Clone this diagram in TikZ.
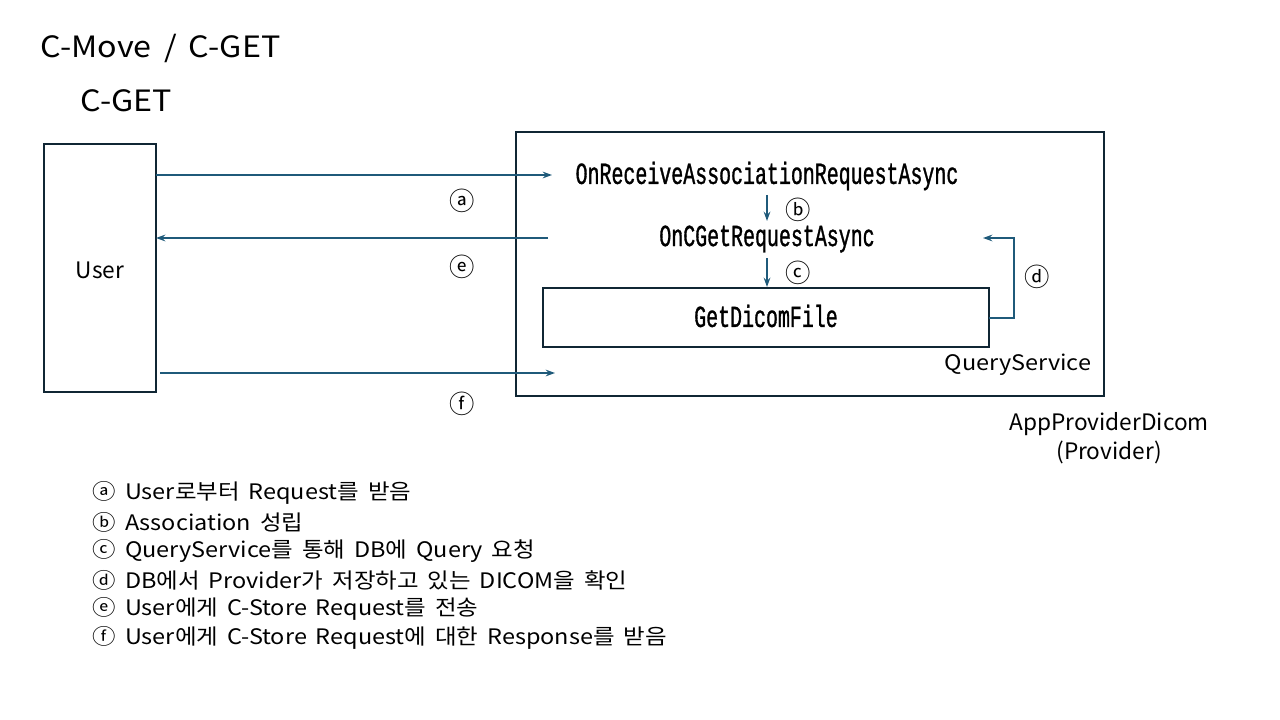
\documentclass[tikz,border=0pt]{standalone}
\usepackage{fontspec}
\usepackage{tikz}
\usetikzlibrary{arrows.meta}
\setmainfont{Noto Sans CJK KR}
\newfontfamily\widefont{Noto Sans CJK KR}[FakeStretch=1.1,WordSpace=1.7]
\newfontfamily\codefont{Liberation Mono}[FakeStretch=0.65,FakeBold=1]
\definecolor{arrowblue}{RGB}{31,90,122}
\definecolor{boxline}{RGB}{16,38,52}

\begin{document}
\begin{tikzpicture}[x=0.75pt,y=-0.75pt,
  box/.style={draw=boxline,line width=1.5pt},
  flow/.style={draw=arrowblue,line width=1.2pt,-{Stealth[length=7pt,width=5pt]}},
  func/.style={font=\codefont\fontsize{23}{23}\selectfont},
  stepmark/.style={font=\fontsize{19}{19}\selectfont},
  txt/.style={font=\fontsize{16}{18}\selectfont}]
\useasboundingbox (0,0) rectangle (1280,720);
\node[anchor=west,font=\widefont\fontsize{22}{22}\selectfont] (title) at (36,48) {C-Move / C-GET};
\node[anchor=west,font=\widefont\fontsize{22}{22}\selectfont] (sub) at (76,101) {C-GET};
% boxes
\draw[box] (44,144) rectangle (156,392);
\node[txt,font=\fontsize{17}{17}\selectfont] (user) at (100,270) {User};
\draw[box] (516,132) rectangle (1104,396);
\draw[box] (543,288) rectangle (989,347);
\coordinate (file) at (766,316);
\coordinate (fileE) at (989,318);
\node[func] (recv) at (767,176) {OnReceiveAssociationRequestAsync};
\node[func] (cget) at (767,239) {OnCGetRequestAsync};
\node[func] at (file) {GetDicomFile};
\node[txt,font=\widefont\fontsize{16}{16}\selectfont] (qs) at (1018,365) {QueryService};
\node[txt,align=center,font=\fontsize{17}{22}\selectfont] (app) at (1109,438) {AppProviderDicom\\(Provider)};
% arrows
\coordinate (ua) at (156,175); \coordinate (pa) at (552,175);
\coordinate (pe) at (548,238); \coordinate (ue) at (156,238);
\coordinate (uf) at (160,373); \coordinate (pf) at (555,373);
\coordinate (rb) at (767,195); \coordinate (cb) at (767,221);
\coordinate (rc) at (767,258); \coordinate (cc) at (767,287);
\coordinate (cd) at (983,238);
\draw[flow] (ua) -- (pa);
\draw[flow] (pe) -- (ue);
\draw[flow] (uf) -- (pf);
\draw[flow] (rb) -- (cb);
\draw[flow] (rc) -- (cc);
\draw[flow] (fileE) -- (1014,318) -- (1014,238) -- (cd);
\node[stepmark] (ma) at (462,201) {ⓐ};
\node[stepmark] (me) at (462,267) {ⓔ};
\node[stepmark] (mf) at (462,404) {ⓕ};
\node[stepmark] (mb) at (798,210) {ⓑ};
\node[stepmark] (mc) at (798,273) {ⓒ};
\node[stepmark] (md) at (1037,277) {ⓓ};
% legend
\foreach \t [count=\i] in {ⓐ User로부터 Request를 받음,ⓑ Association 성립,ⓒ QueryService를 통해 DB에 Query 요청,ⓓ DB에서 Provider가 저장하고 있는 DICOM을 확인,ⓔ User에게 C-Store Request를 전송,ⓕ User에게 C-Store Request에 대한 Response를 받음}
  \node[txt,font=\widefont\fontsize{16}{18}\selectfont,anchor=west] (leg\i) at (88,464+29*\i) {\t};
\end{tikzpicture}
\end{document}
